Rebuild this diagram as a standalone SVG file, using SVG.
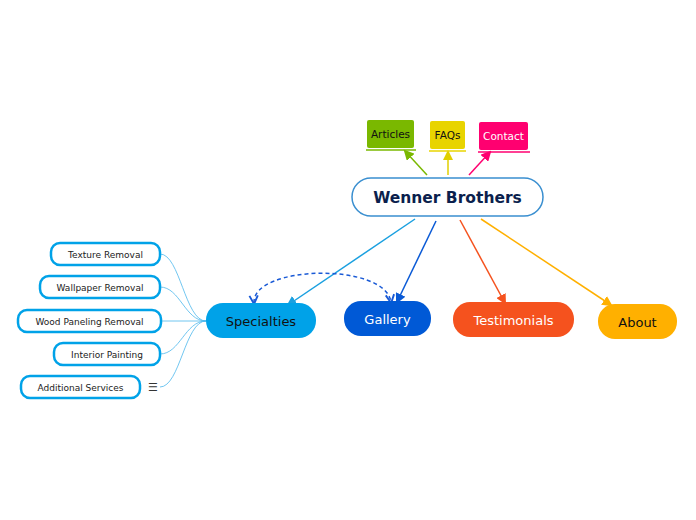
<svg xmlns="http://www.w3.org/2000/svg" width="696" height="520" viewBox="0 0 696 520">
<defs>
<style>
text{font-family:"DejaVu Sans","Liberation Sans",sans-serif;text-anchor:middle;dominant-baseline:central}
.sub{fill:#fff;stroke:#00a2e8;stroke-width:2.5}
.subt{font-size:9px;fill:#222}
.br{fill:none;stroke:#4db8ec;stroke-width:0.8}
.main{font-size:13px}
</style>
<marker id="aG" viewBox="0 0 10 10" refX="8" refY="5" markerWidth="7" markerHeight="7" orient="auto"><path d="M0,0L10,5L0,10z" fill="#7ab800"/></marker>
<marker id="aY" viewBox="0 0 10 10" refX="8" refY="5" markerWidth="7" markerHeight="7" orient="auto"><path d="M0,0L10,5L0,10z" fill="#e0cf00"/></marker>
<marker id="aP" viewBox="0 0 10 10" refX="8" refY="5" markerWidth="7" markerHeight="7" orient="auto"><path d="M0,0L10,5L0,10z" fill="#ff0070"/></marker>
<marker id="aS" viewBox="0 0 10 10" refX="8" refY="5" markerWidth="7" markerHeight="7" orient="auto"><path d="M0,0L10,5L0,10z" fill="#1aa0e0"/></marker>
<marker id="aB" viewBox="0 0 10 10" refX="8" refY="5" markerWidth="7" markerHeight="7" orient="auto"><path d="M0,0L10,5L0,10z" fill="#0a5ad6"/></marker>
<marker id="aO" viewBox="0 0 10 10" refX="8" refY="5" markerWidth="7" markerHeight="7" orient="auto"><path d="M0,0L10,5L0,10z" fill="#f5521e"/></marker>
<marker id="aA" viewBox="0 0 10 10" refX="8" refY="5" markerWidth="7" markerHeight="7" orient="auto"><path d="M0,0L10,5L0,10z" fill="#ffb000"/></marker>
<marker id="aD" viewBox="0 0 10 10" refX="8" refY="5" markerWidth="7" markerHeight="7" orient="auto-start-reverse"><path d="M1,1L9,5L1,9" fill="none" stroke="#1a5ad6" stroke-width="1.8"/></marker>
</defs>
<rect width="696" height="520" fill="#fff"/>
<g id="connectors">
<line x1="427" y1="175" x2="405" y2="151" stroke="#7ab800" stroke-width="1.5" marker-end="url(#aG)"/>
<line x1="448" y1="175" x2="448" y2="152" stroke="#e0cf00" stroke-width="1.5" marker-end="url(#aY)"/>
<line x1="469" y1="175" x2="490" y2="152" stroke="#ff0070" stroke-width="1.5" marker-end="url(#aP)"/>
<line x1="415" y1="219" x2="288" y2="305" stroke="#1aa0e0" stroke-width="1.5" marker-end="url(#aS)"/>
<line x1="436" y1="221" x2="397" y2="302" stroke="#0a5ad6" stroke-width="1.5" marker-end="url(#aB)"/>
<line x1="460" y1="220" x2="505" y2="303" stroke="#f5521e" stroke-width="1.5" marker-end="url(#aO)"/>
<line x1="481" y1="219" x2="611" y2="305" stroke="#ffb000" stroke-width="1.5" marker-end="url(#aA)"/>
<path d="M254,303 C252,265 385,262 391,302" fill="none" stroke="#1a5ad6" stroke-width="1.5" stroke-dasharray="4,3" marker-start="url(#aD)" marker-end="url(#aD)"/>
<path class="br" d="M206,321 C185,321 180,254 160,254"/>
<path class="br" d="M206,321 C185,321 180,287 160,287"/>
<path class="br" d="M206,321 L161,321"/>
<path class="br" d="M206,321 C185,321 180,354 160,354"/>
<path class="br" d="M206,321 C185,321 180,387 160,387"/>
</g>
<g id="central"><rect x="352" y="178" width="191" height="38" rx="19" fill="#fff" stroke="#3a8fd0" stroke-width="1.5"/><text x="447.5" y="197.5" font-size="15.5" font-weight="bold" fill="#0b1f4d">Wenner Brothers</text></g>
<g id="articles"><rect x="367" y="120" width="47" height="28" rx="2" fill="#7ab800"/><line x1="366" y1="150" x2="416" y2="150" stroke="#7ab800" stroke-width="1.5"/><text x="390.5" y="134" font-size="10.5" fill="#111">Articles</text></g>
<g id="faqs"><rect x="430" y="121" width="35" height="28" rx="2" fill="#e8d400"/><line x1="429" y1="151" x2="466" y2="151" stroke="#e8d400" stroke-width="1.5"/><text x="447.5" y="135" font-size="10.5" fill="#111">FAQs</text></g>
<g id="contact"><rect x="479" y="122" width="49" height="28" rx="2" fill="#ff0070"/><line x1="478" y1="152" x2="530" y2="152" stroke="#ff0070" stroke-width="1.5"/><text x="503.5" y="136" font-size="10.5" fill="#fff">Contact</text></g>
<g id="specialties"><rect x="206" y="303" width="110" height="35" rx="17" fill="#00a2e8"/><text x="261" y="321" class="main" fill="#111">Specialties</text></g>
<g id="gallery"><rect x="344" y="301" width="87" height="35" rx="17" fill="#0059d6"/><text x="387.5" y="319" class="main" fill="#fff">Gallery</text></g>
<g id="testimonials"><rect x="453" y="302" width="121" height="35" rx="17" fill="#f5521e"/><text x="513.5" y="320" class="main" fill="#fff">Testimonials</text></g>
<g id="about"><rect x="598" y="304" width="79" height="35" rx="17" fill="#ffb000"/><text x="637.5" y="322" class="main" fill="#111">About</text></g>
<g id="texture"><rect class="sub" x="51" y="243" width="109" height="22" rx="9"/><text class="subt" x="105.5" y="254.5">Texture Removal</text></g>
<g id="wallpaper"><rect class="sub" x="40" y="276" width="120" height="22" rx="9"/><text class="subt" x="100" y="287.5">Wallpaper Removal</text></g>
<g id="wood"><rect class="sub" x="18" y="310" width="143" height="22" rx="9"/><text class="subt" x="89.5" y="321.5">Wood Paneling Removal</text></g>
<g id="interior"><rect class="sub" x="54" y="343" width="106" height="22" rx="9"/><text class="subt" x="107" y="354.5">Interior Painting</text></g>
<g id="additional"><rect class="sub" x="21" y="376" width="119" height="22" rx="9"/><text class="subt" x="80.5" y="387.5">Additional Services</text><text x="153" y="387" font-size="11" fill="#333">☰</text></g>
</svg>
